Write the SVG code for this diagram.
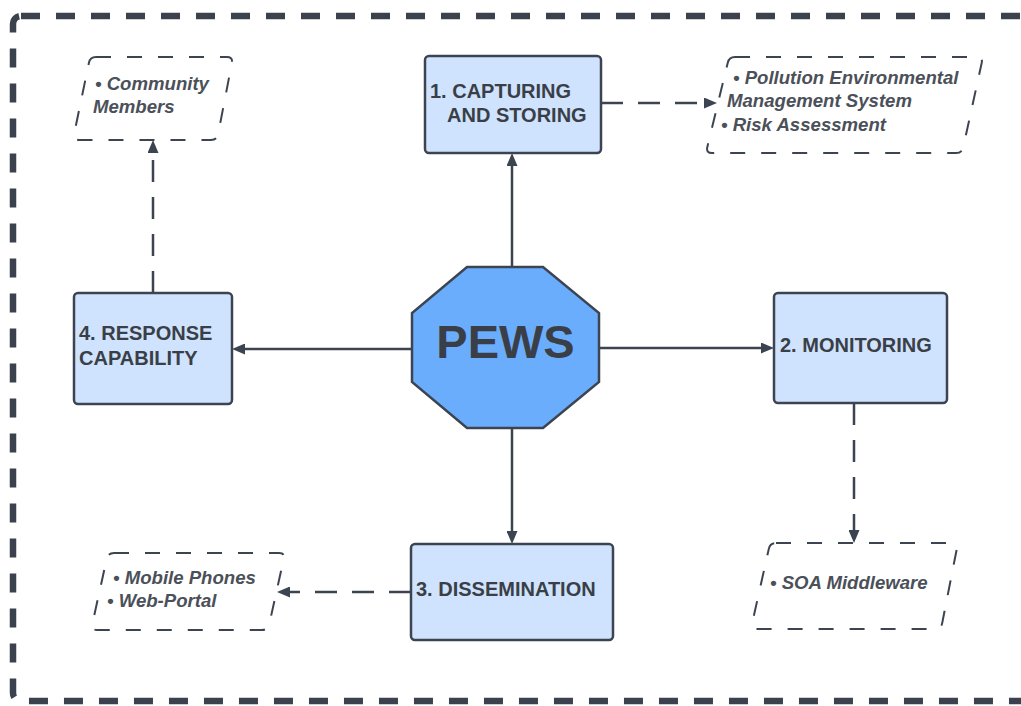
<svg xmlns="http://www.w3.org/2000/svg" width="1021" height="706" viewBox="0 0 1021 706">
  <style>
    .frame { fill: none; stroke: #3b424d; stroke-width: 6.5; stroke-dasharray: 19 16; }
    .box { fill: #cfe3fe; stroke: #3d4451; stroke-width: 2.5; }
    .hub { fill: #6aadfd; stroke: #3d4451; stroke-width: 2.5; }
    .note { fill: #ffffff; stroke: #3d4451; stroke-width: 2; stroke-dasharray: 15 16; }
    .lbl { font-family: "Liberation Sans", Arial, sans-serif; font-weight: bold; font-size: 20px; fill: #3a3f47; }
    .hubtxt { font-family: "Liberation Sans", Arial, sans-serif; font-weight: bold; font-size: 47px; fill: #3a3f47; }
    .ital { font-family: "Liberation Sans", Arial, sans-serif; font-weight: bold; font-style: italic; font-size: 18.6px; fill: #4b5059; }
    .link { fill: none; stroke: #3d4451; stroke-width: 2.5; }
    .dash { stroke-dasharray: 22 15; }
  </style>
  <defs>
    <marker id="arrow" markerUnits="userSpaceOnUse" markerWidth="13" markerHeight="11" refX="2" refY="5.5" orient="auto">
      <path d="M0,0 L13,5.5 L0,11 Z" fill="#3d4451"/>
    </marker>
  </defs>

  <rect width="1021" height="706" fill="#ffffff"/>

  <!-- outer dashed frame, right side runs off the canvas -->
  <rect class="frame" x="13" y="16" width="1030" height="685" rx="8"/>

  <g id="connectors">
    <line class="link" x1="512" y1="267" x2="512" y2="164" marker-end="url(#arrow)"/>
    <line class="link" x1="512" y1="428" x2="512" y2="533" marker-end="url(#arrow)"/>
    <line class="link" x1="412" y1="349" x2="243" y2="349" marker-end="url(#arrow)"/>
    <line class="link" x1="599" y1="348" x2="763" y2="348" marker-end="url(#arrow)"/>
    <line class="link dash" x1="601" y1="103" x2="706" y2="103" marker-end="url(#arrow)"/>
    <line class="link dash" x1="153" y1="293" x2="153" y2="151" marker-end="url(#arrow)"/>
    <line class="link dash" x1="854" y1="403" x2="854" y2="532" marker-end="url(#arrow)"/>
    <line class="link dash" x1="411" y1="592" x2="288" y2="592" marker-end="url(#arrow)"/>
  </g>

  <g id="pews">
    <polygon class="hub" points="467,267 543,267 599,313 599,382 543,428 467,428 412,382 412,313"/>
    <text class="hubtxt" x="505.5" y="358" text-anchor="middle">PEWS</text>
  </g>

  <g id="capturing">
    <rect class="box" x="425" y="56" width="176" height="97" rx="4"/>
    <text class="lbl" x="430" y="98">1. CAPTURING</text>
    <text class="lbl" x="447" y="122">AND STORING</text>
  </g>

  <g id="monitoring">
    <rect class="box" x="774" y="293" width="173" height="110" rx="4"/>
    <text class="lbl" x="780" y="352">2. MONITORING</text>
  </g>

  <g id="dissemination">
    <rect class="box" x="411" y="544" width="202" height="96" rx="4"/>
    <text class="lbl" x="416" y="596">3. DISSEMINATION</text>
  </g>

  <g id="response">
    <rect class="box" x="74" y="293" width="158" height="111" rx="4"/>
    <text class="lbl" x="79" y="340">4. RESPONSE</text>
    <text class="lbl" x="79" y="365">CAPABILITY</text>
  </g>

  <g id="community">
    <path class="note" d="M96,57 H227 Q233,57 231.9,62.9 L218.1,134.1 Q217,140 211,140 H79 Q73,140 74.1,134.1 L88.9,62.9 Q90,57 96,57 Z"/>
    <text class="ital" x="95" y="90">• Community</text>
    <text class="ital" x="93" y="113">Members</text>
  </g>

  <g id="pollution">
    <path class="note" d="M735,57 H977 Q983,57 981.7,62.9 L963.3,147.1 Q962,153 956,153 H712 Q706,153 707.3,147.1 L727.7,62.9 Q729,57 735,57 Z"/>
    <text class="ital" x="733" y="84">• Pollution Environmental</text>
    <text class="ital" x="727" y="107">Management System</text>
    <text class="ital" x="721" y="131">• Risk Assessment</text>
  </g>

  <g id="soa">
    <path class="note" d="M776,543 H952 Q958,543 956.8,548.9 L942.2,623.1 Q941,629 935,629 H757 Q751,629 752.2,623.1 L768.8,548.9 Q770,543 776,543 Z"/>
    <text class="ital" x="770" y="589">• SOA Middleware</text>
  </g>

  <g id="channels">
    <path class="note" d="M114,553 H279 Q285,553 283.7,558.9 L269.3,624.1 Q268,630 262,630 H97 Q91,630 92.3,624.1 L106.7,558.9 Q108,553 114,553 Z"/>
    <text class="ital" x="113" y="584">• Mobile Phones</text>
    <text class="ital" x="107" y="607">• Web-Portal</text>
  </g>
</svg>
